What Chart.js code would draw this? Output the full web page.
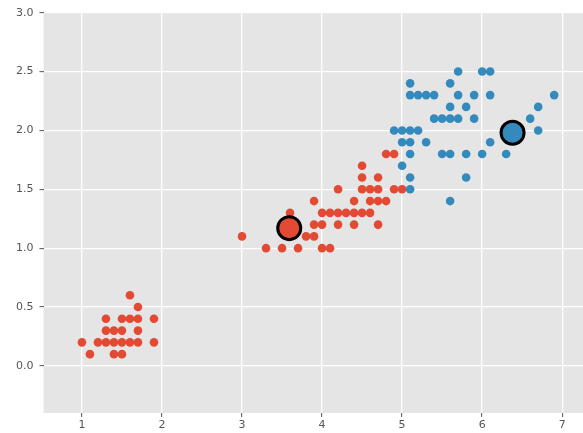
<!DOCTYPE html>
<html>
<head>
<meta charset="utf-8">
<script src="https://cdn.jsdelivr.net/npm/chart.js@4"></script>
<style>
  html, body { margin: 0; padding: 0; background: #ffffff; overflow: hidden; width: 583px; height: 433px; }
  #wrap { width: 583px; height: 433px; position: relative; overflow: hidden; }
  #c { display: block; width: 583px; height: 433px; }
</style>
</head>
<body>
<div id="wrap"><canvas id="c" width="583" height="433"></canvas></div>
<script>
// Cluster 0 (red): petal length / petal width
const redX = [1.0,1.1,1.2,1.3,1.3,1.3,1.4,1.4,1.4,1.5,1.5,1.5,1.5,1.6,1.6,1.6,1.7,1.7,1.7,1.7,1.9,1.9,
  3.3,3.5,3.7,4.0,4.1,
  3.0,3.8,3.9,
  3.9,4.0,4.2,4.4,4.7,
  3.6,4.0,4.1,4.2,4.3,4.4,4.5,4.6,
  3.9,4.4,4.6,4.7,4.8,
  4.2,4.5,4.6,4.7,4.9,5.0,
  4.5,4.7,
  4.5,
  4.8,4.9];
const redY = [0.2,0.1,0.2,0.2,0.3,0.4,0.1,0.2,0.3,0.1,0.2,0.3,0.4,0.2,0.4,0.6,0.2,0.3,0.4,0.5,0.2,0.4,
  1.0,1.0,1.0,1.0,1.0,
  1.1,1.1,1.1,
  1.2,1.2,1.2,1.2,1.2,
  1.3,1.3,1.3,1.3,1.3,1.3,1.3,1.3,
  1.4,1.4,1.4,1.4,1.4,
  1.5,1.5,1.5,1.5,1.5,1.5,
  1.6,1.6,
  1.7,
  1.8,1.8];
// Cluster 1 (blue)
const blueX = [5.6,
  5.1,
  5.1,5.8,
  5.0,
  5.1,5.5,5.6,5.8,6.0,6.3,
  5.0,5.1,5.3,6.1,
  4.9,5.0,5.1,5.2,6.4,6.7,
  5.4,5.5,5.6,5.7,5.9,6.6,
  5.6,5.8,6.7,
  5.1,5.2,5.3,5.4,5.7,5.9,6.1,6.9,
  5.1,5.6,
  5.7,6.0,6.1];
const blueY = [1.4,
  1.5,
  1.6,1.6,
  1.7,
  1.8,1.8,1.8,1.8,1.8,1.8,
  1.9,1.9,1.9,1.9,
  2.0,2.0,2.0,2.0,2.0,2.0,
  2.1,2.1,2.1,2.1,2.1,2.1,
  2.2,2.2,2.2,
  2.3,2.3,2.3,2.3,2.3,2.3,2.3,2.3,
  2.4,2.4,
  2.5,2.5,2.5];
// Cluster centres
const centerX = [3.59, 6.38];
const centerY = [1.17, 1.98];
// Axes
const xTicks = [1, 2, 3, 4, 5, 6, 7];
const yTicks = [0.0, 0.5, 1.0, 1.5, 2.0, 2.5, 3.0];
const xRange = [0.52, 7.26];
const yRange = [-0.40, 3.0];

const RED = '#E24A33';
const BLUE = '#348ABD';

function pts(xs, ys) { return xs.map((x, i) => ({ x: x, y: ys[i] })); }

const bgPlugin = {
  id: 'bg',
  beforeDraw(chart) {
    const a = chart.chartArea, ctx = chart.ctx;
    ctx.save();
    ctx.fillStyle = '#E5E5E5';
    ctx.fillRect(a.left, a.top, a.right - a.left, a.bottom - a.top);
    ctx.restore();
  }
};

const tickFont = { family: 'DejaVu Sans', size: 11 };

new Chart(document.getElementById('c'), {
  type: 'scatter',
  data: {
    datasets: [
      {
        label: 'centres',
        data: [{ x: centerX[0], y: centerY[0] }],
        backgroundColor: RED, borderColor: '#000000', borderWidth: 3,
        pointRadius: 11.5, pointHoverRadius: 11.5, order: 0
      },
      {
        label: 'centres2',
        data: [{ x: centerX[1], y: centerY[1] }],
        backgroundColor: BLUE, borderColor: '#000000', borderWidth: 3,
        pointRadius: 11.5, pointHoverRadius: 11.5, order: 0
      },
      {
        label: 'blue',
        data: pts(blueX, blueY),
        backgroundColor: BLUE, borderColor: BLUE, borderWidth: 0,
        pointRadius: 4.3, pointHoverRadius: 4.3, order: 1
      },
      {
        label: 'red',
        data: pts(redX, redY),
        backgroundColor: RED, borderColor: RED, borderWidth: 0,
        pointRadius: 4.3, pointHoverRadius: 4.3, order: 2
      }
    ]
  },
  options: {
    responsive: false,
    animation: false,
    devicePixelRatio: 1,
    layout: { autoPadding: false, padding: { top: 12.7, left: 0, right: 0, bottom: 0 } },
    plugins: { legend: { display: false }, tooltip: { enabled: false } },
    scales: {
      x: {
        type: 'linear',
        min: xRange[0], max: xRange[1],
        afterBuildTicks(scale) { scale.ticks = xTicks.map(v => ({ value: v })); },
        afterFit(scale) { scale.height = 20; scale.paddingLeft = 0; scale.paddingRight = 0; },
        grid: { color: '#FFFFFF', lineWidth: 1.3, tickColor: '#555555', tickLength: 4, tickWidth: 1 },
        border: { display: false },
        ticks: { color: '#555555', font: tickFont, padding: 2, maxRotation: 0,
                 callback: v => String(v) }
      },
      y: {
        type: 'linear',
        min: yRange[0], max: yRange[1],
        afterBuildTicks(scale) { scale.ticks = yTicks.map(v => ({ value: v })); },
        afterFit(scale) { scale.width = 43.5; scale.paddingTop = 0; scale.paddingBottom = 0; },
        grid: { color: '#FFFFFF', lineWidth: 1.3, tickColor: '#555555', tickLength: 4, tickWidth: 1 },
        border: { display: false },
        ticks: { color: '#555555', font: tickFont, padding: 6,
                 callback: v => Number(v).toFixed(1) }
      }
    }
  },
  plugins: [bgPlugin]
});
</script>
</body>
</html>
